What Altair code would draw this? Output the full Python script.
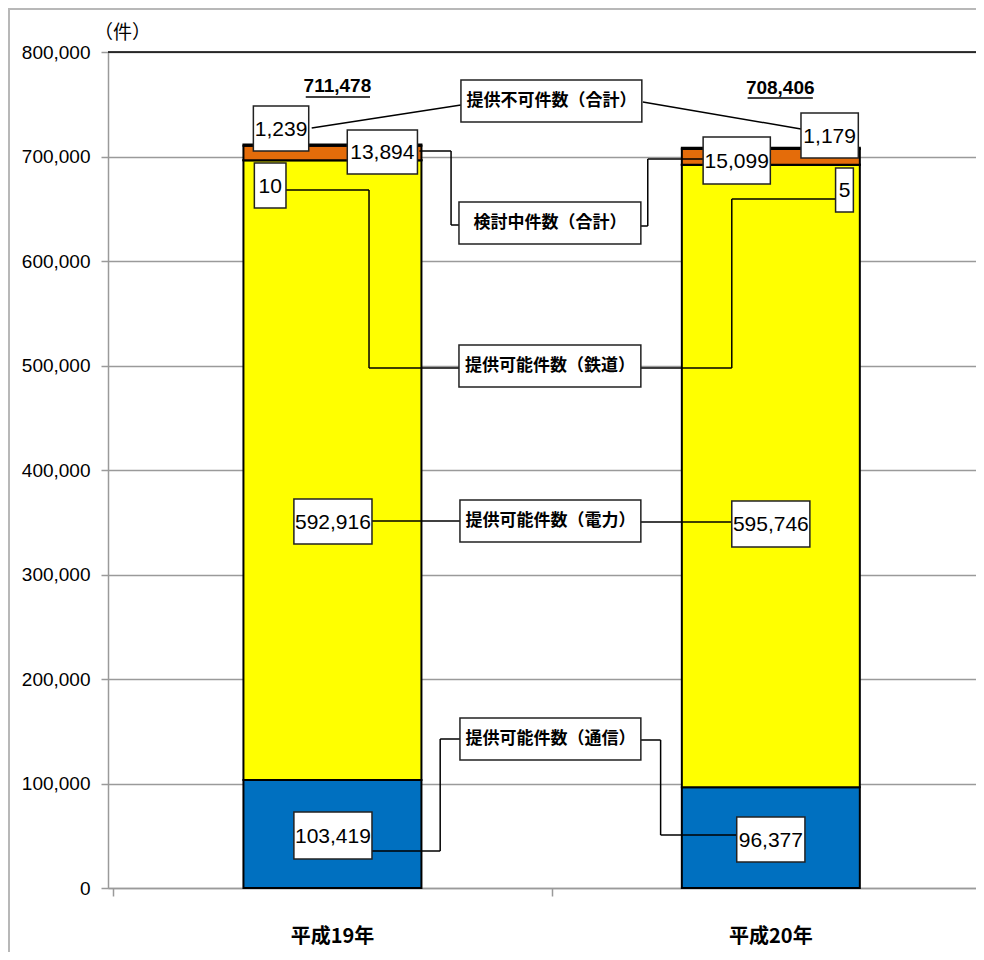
import altair as alt
import pandas as pd

# ---------------- data ----------------
YEARS = ["平成19年", "平成20年"]
SERIES = ["提供可能件数（通信）", "提供可能件数（電力）", "提供可能件数（鉄道）",
          "検討中件数（合計）", "提供不可件数（合計）"]
H19 = [103419, 592916, 10, 13894, 1239]
H20 = [96377, 595746, 5, 15099, 1179]
TOTALS = [711478, 708406]
Y_TICKS = [0, 100000, 200000, 300000, 400000, 500000, 600000, 700000, 800000]
UNIT_LABEL = "（件）"

# ---------------- style / layout ----------------
COLORS = ["#0070C0", "#FFFF00", "#FFFF00", "#E46C0A", "#000000"]
NUM_FONT = "Liberation Sans, Arial, sans-serif"
CJK_FONT = "Noto Sans CJK JP"
GRID = "#9a9a9a"

PLOT_LEFT, PLOT_TOP, PLOT_W, PLOT_H = 108, 52, 868, 836
CAT0_PX, STEP_PX = 330.0, 443.5
Y_MAX = 800000


def ux(px):  # page pixel -> x data unit
    return (px - CAT0_PX) / STEP_PX


def vy(py):  # page pixel -> y value
    return (PLOT_TOP + PLOT_H - py) * Y_MAX / PLOT_H


XMIN, XMAX = ux(PLOT_LEFT), ux(PLOT_LEFT + PLOT_W)

# value label boxes (x1, x2, y1, y2) in page pixels, keyed by (year, series)
BOX_LAYOUT = {
    (0, 4): (250, 306, 106, 151), (0, 3): (345, 416, 130, 174),
    (0, 2): (251, 283, 163, 208), (0, 1): (291, 370, 499, 544),
    (0, 0): (291, 370, 812, 859),
    (1, 4): (804, 862, 113, 158), (1, 3): (705, 773, 137, 184),
    (1, 2): (839, 857, 168, 212), (1, 1): (734, 813, 501, 547),
    (1, 0): (739, 808, 817, 862),
}
NAME_LAYOUT = {
    4: (460, 643, 80, 122), 3: (458, 642, 202, 244), 2: (458, 642, 345, 387),
    1: (459, 642, 500, 542), 0: (459, 642, 718, 760),
}
CONNECTORS = [
    ((309, 128), (460, 105)), ((644, 102), (804, 129)),
    ((418, 151), (450, 151)), ((450, 151), (450, 225)), ((450, 225), (458, 225)),
    ((642, 226), (649, 226)), ((649, 226), (649, 159)), ((649, 159), (705, 159)),
    ((283, 190), (367, 190)), ((367, 190), (367, 368)), ((367, 368), (458, 368)),
    ((642, 368), (734, 368)), ((734, 368), (734, 199)), ((734, 199), (839, 199)),
    ((370, 521), (459, 521)), ((642, 522), (734, 522)),
    ((370, 851), (439, 851)), ((439, 851), (439, 739)), ((439, 739), (459, 739)),
    ((642, 740), (662, 740)), ((662, 740), (662, 835)), ((662, 835), (739, 835)),
]
TOTAL_POS = [(335, 86), (783, 88)]
UNDERLINES = [(303, 368, 97), (750, 816, 98)]
BAR_PX = 178

# ---------------- tables ----------------
rows = []
for yi, vals in enumerate([H19, H20]):
    for si, v in enumerate(vals):
        rows.append({"xpos": yi, "year": YEARS[yi], "series": SERIES[si], "rank": si, "value": v})
bars_df = pd.DataFrame(rows)

box_rows = []
for (yi, si), (x1, x2, y1, y2) in BOX_LAYOUT.items():
    v = [H19, H20][yi][si]
    box_rows.append({"x1": ux(x1), "x2": ux(x2), "y1": vy(y1), "y2": vy(y2),
                     "xc": ux((x1 + x2) / 2), "yc": vy((y1 + y2) / 2 + 1),
                     "text": f"{v:,}", "kind": "num"})
for si, (x1, x2, y1, y2) in NAME_LAYOUT.items():
    box_rows.append({"x1": ux(x1), "x2": ux(x2), "y1": vy(y1), "y2": vy(y2),
                     "xc": ux((x1 + x2) / 2), "yc": vy((y1 + y2) / 2),
                     "text": SERIES[si], "kind": "name"})
boxes_df = pd.DataFrame(box_rows)

conn_df = pd.DataFrame([{"x1": ux(a[0]), "y1": vy(a[1]), "x2": ux(b[0]), "y2": vy(b[1])}
                        for a, b in CONNECTORS])
tot_df = pd.DataFrame([{"x": ux(p[0]), "y": vy(p[1]), "text": f"{t:,}"}
                       for p, t in zip(TOTAL_POS, TOTALS)])
ul_df = pd.DataFrame([{"x1": ux(a), "x2": ux(b), "y": vy(c)} for a, b, c in UNDERLINES])
cat_df = pd.DataFrame({"xpos": [0, 1], "year": YEARS})
top_df = pd.DataFrame({"v": [Y_MAX]})
unit_df = pd.DataFrame({"t": [UNIT_LABEL]})

xs = alt.Scale(domain=[XMIN, XMAX], nice=False, zero=False)
ys = alt.Scale(domain=[0, Y_MAX], nice=False)

x_axis = alt.Axis(values=[XMIN, 0.5], labels=False, grid=False, tickColor=GRID,
                  tickSize=8, tickWidth=1.5, domainColor=GRID, domainWidth=1.5, title="")
y_axis = alt.Axis(values=Y_TICKS, labelExpr="format(datum.value, ',')",
                  labelFont=NUM_FONT, labelFontSize=19,
                  labelColor="black", tickColor=GRID, tickSize=7, tickWidth=1.5,
                  domainColor=GRID, domainWidth=1.5, gridColor=GRID, gridWidth=1.5,
                  labelPadding=11, title="")


def X(field):
    return alt.X(field, scale=xs, axis=x_axis)


def Y(field):
    return alt.Y(field, scale=ys, axis=y_axis)


bars = alt.Chart(bars_df).mark_bar(size=BAR_PX, stroke="black", strokeWidth=2).encode(
    x=X("xpos:Q"),
    y=alt.Y("value:Q", stack="zero", scale=ys, axis=y_axis),
    color=alt.Color("series:N", scale=alt.Scale(domain=SERIES, range=COLORS), legend=None),
    order=alt.Order("rank:Q"),
)

top_line = alt.Chart(top_df).mark_rule(color="black", strokeWidth=1.5).encode(y=Y("v:Q"))

conns = alt.Chart(conn_df).mark_rule(color="black", strokeWidth=1.5).encode(
    x=X("x1:Q"), x2="x2:Q", y=Y("y1:Q"), y2="y2:Q")

boxes = alt.Chart(boxes_df).mark_rect(fill="white", stroke="#222222", strokeWidth=1.5).encode(
    x=X("x1:Q"), x2="x2:Q", y=Y("y1:Q"), y2="y2:Q")

num_text = alt.Chart(boxes_df).transform_filter(alt.datum.kind == "num").mark_text(
    font=NUM_FONT, fontSize=21, color="black", align="center", baseline="middle").encode(
    x=X("xc:Q"), y=Y("yc:Q"), text="text:N")

name_text = alt.Chart(boxes_df).transform_filter(alt.datum.kind == "name").mark_text(
    font=CJK_FONT, fontSize=17, fontWeight="bold", color="black", align="center",
    baseline="middle").encode(x=X("xc:Q"), y=Y("yc:Q"), text="text:N")

totals = alt.Chart(tot_df).mark_text(
    font=NUM_FONT, fontSize=19, fontWeight="bold", color="black", align="center",
    baseline="middle").encode(x=X("x:Q"), y=Y("y:Q"), text="text:N")

underlines = alt.Chart(ul_df).mark_rule(color="black", strokeWidth=1.5).encode(
    x=X("x1:Q"), x2="x2:Q", y=Y("y:Q"))

cats = alt.Chart(cat_df).mark_text(
    font=CJK_FONT, fontSize=20, fontWeight="bold", color="black", align="center",
    baseline="middle").encode(x=X("xpos:Q"), y=alt.value(885), text="year:N")

unit = alt.Chart(unit_df).mark_text(
    font=CJK_FONT, fontSize=19, color="black", align="left", baseline="middle").encode(
    x=alt.value(-14), y=alt.value(-19), text="t:N")

border_l = alt.Chart(unit_df).mark_rule(color="#b8b8b8", strokeWidth=2).encode(
    x=alt.value(-99), y=alt.value(-44), y2=alt.value(910))
border_t = alt.Chart(unit_df).mark_rule(color="#b8b8b8", strokeWidth=2).encode(
    x=alt.value(-99), x2=alt.value(880), y=alt.value(-43))

chart = alt.layer(
    bars, top_line, conns, boxes, num_text, name_text, totals, underlines, cats, unit,
    border_l, border_t,
).properties(
    width=PLOT_W, height=PLOT_H,
    autosize=alt.AutoSizeParams(type="none"),
    padding={"left": 100, "top": 44, "right": 0, "bottom": 64},
).configure_view(strokeWidth=0)

chart.save("out.html", embed_options={"renderer": "svg", "actions": False})
